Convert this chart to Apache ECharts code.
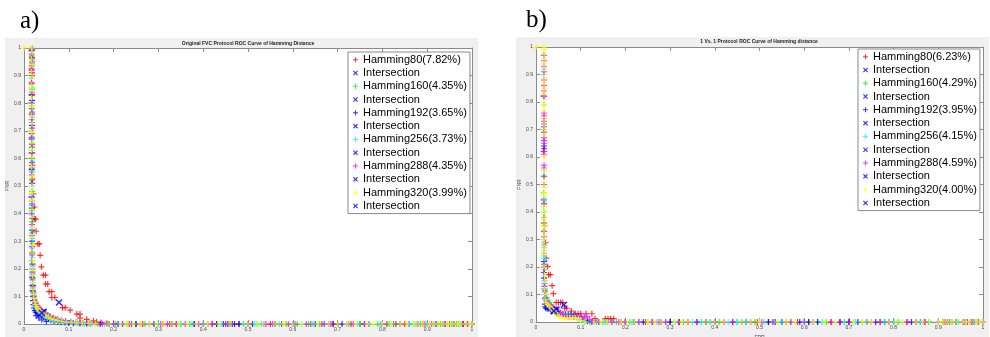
<!DOCTYPE html>
<html>
<head>
<meta charset="utf-8">
<script src="https://cdn.jsdelivr.net/npm/echarts@6.0.0/dist/echarts.min.js"></script>
<style>
  html, body { margin: 0; padding: 0; background: #fff; }
  #chart { width: 990px; height: 337px; }
</style>
</head>
<body>
<div id="chart"></div>
<script>
// ---- data: panel a) Original FVC protocol, [FPR, FNR] ----
const a80 = [[0.017,0.99],[0.018,0.965],[0.017,0.935],[0.018,0.91],[0.017,0.87],[0.018,0.83],[0.017,0.78],[0.018,0.73],[0.017,0.69],[0.018,0.64],[0.017,0.6],[0.018,0.575],[0.019,0.525],[0.021,0.472],[0.0235,0.424],[0.023,0.38],[0.026,0.38],[0.027,0.336],[0.031,0.29],[0.034,0.29],[0.036,0.249],[0.039,0.207],[0.043,0.177],[0.048,0.177],[0.048,0.145],[0.053,0.145],[0.056,0.117],[0.062,0.117],[0.062,0.096],[0.069,0.096],[0.086,0.059],[0.092,0.059],[0.103,0.05],[0.118,0.036],[0.125,0.036],[0.125,0.021],[0.14,0.017],[0.155,0.011],[0.162,0.007],[0.172,0.005],[0.185,0.003],[0.2,0.001],[0.22,0],[0.25,0],[0.28,0],[0.31,0],[0.34,0],[0.38,0],[0.42,0],[0.46,0],[0.5,0],[0.55,0],[0.6,0],[0.64,0],[0.69,0],[0.73,0],[0.77,0],[0.81,0],[0.85,0],[0.89,0],[0.92,0],[0.95,0],[0.97,0],[0.99,0],
  [0.235,0],[0.265,0],[0.325,0],[0.4,0],[0.48,0],[0.575,0],[0.665,0],[0.75,0],[0.83,0],[0.905,0],[0.935,0],[0.96,0],[0.98,0]];
const a160 = [[0.018,1],[0.017,0.97],[0.018,0.945],[0.017,0.9],[0.018,0.855],[0.017,0.79],[0.018,0.75],[0.017,0.7],[0.018,0.655],[0.017,0.64],[0.018,0.6],[0.019,0.575],[0.018,0.55],[0.017,0.52],[0.018,0.48],[0.018,0.445],[0.017,0.41],[0.018,0.37],[0.018,0.33],[0.019,0.29],[0.018,0.255],[0.019,0.22],[0.019,0.19],[0.02,0.165],[0.02,0.14],[0.021,0.12],[0.022,0.105],[0.023,0.092],[0.025,0.082],[0.027,0.074],[0.03,0.066],[0.033,0.059],[0.036,0.053],[0.04,0.048],[0.0435,0.0435],[0.048,0.038],[0.053,0.033],[0.058,0.028],[0.064,0.023],[0.07,0.019],[0.077,0.015],[0.085,0.012],[0.094,0.009],[0.105,0.007],[0.118,0.005],[0.132,0.003],[0.148,0.002],[0.165,0.001],[0.19,0],[0.23,0],[0.27,0],[0.33,0],[0.37,0],[0.41,0],[0.45,0],[0.52,0],[0.56,0],[0.61,0],[0.66,0],[0.7,0],[0.75,0],[0.79,0],[0.83,0],[0.87,0],[0.9,0],[0.93,0],[0.955,0],[0.975,0],[0.99,0],[1,0],
  [0.205,0],[0.25,0],[0.3,0],[0.35,0],[0.43,0],[0.49,0],[0.585,0],[0.635,0],[0.725,0],[0.815,0],[0.885,0],[0.915,0],[0.945,0],[0.965,0]];
const a192 = [[0.017,0.99],[0.018,0.96],[0.017,0.92],[0.017,0.83],[0.018,0.81],[0.017,0.76],[0.018,0.72],[0.017,0.67],[0.018,0.62],[0.017,0.56],[0.018,0.51],[0.017,0.46],[0.018,0.42],[0.019,0.383],[0.018,0.34],[0.018,0.3],[0.018,0.26],[0.018,0.23],[0.019,0.2],[0.018,0.17],[0.019,0.14],[0.019,0.12],[0.02,0.1],[0.02,0.085],[0.021,0.07],[0.022,0.058],[0.024,0.049],[0.026,0.043],[0.029,0.04],[0.032,0.038],[0.0365,0.036],[0.04,0.032],[0.044,0.027],[0.049,0.022],[0.054,0.017],[0.06,0.013],[0.067,0.01],[0.075,0.008],[0.083,0.006],[0.092,0.005],[0.1,0.004],[0.11,0.003],[0.125,0.002],[0.14,0.001],[0.17,0],[0.21,0],[0.25,0],[0.29,0],[0.33,0],[0.38,0],[0.43,0],[0.47,0],[0.48,0],[0.51,0],[0.56,0],[0.6,0],[0.65,0],[0.68,0],[0.71,0],[0.76,0],[0.8,0],[0.84,0],[0.88,0],[0.92,0],[0.96,0],[0.98,0],[1,0],
  [0.027,0.03],[0.033,0.022],[0.04,0.015],[0.05,0.009],[0.19,0],[0.445,0],[0.455,0],[0.465,0],[0.535,0],[0.69,0],[0.7,0],[0.86,0],[0.94,0]];
const a256 = [[0.017,0.98],[0.018,0.94],[0.017,0.89],[0.018,0.85],[0.017,0.8],[0.018,0.77],[0.017,0.73],[0.018,0.68],[0.017,0.63],[0.018,0.59],[0.017,0.555],[0.018,0.5],[0.018,0.47],[0.017,0.43],[0.018,0.395],[0.018,0.35],[0.019,0.31],[0.018,0.275],[0.019,0.24],[0.019,0.21],[0.019,0.18],[0.02,0.15],[0.02,0.13],[0.021,0.11],[0.022,0.095],[0.023,0.082],[0.025,0.07],[0.027,0.061],[0.03,0.053],[0.033,0.046],[0.0373,0.04],[0.041,0.035],[0.046,0.029],[0.051,0.024],[0.057,0.019],[0.063,0.015],[0.07,0.012],[0.078,0.009],[0.087,0.007],[0.097,0.005],[0.108,0.004],[0.12,0.003],[0.135,0.002],[0.15,0.001],[0.18,0],[0.22,0],[0.26,0],[0.3,0],[0.35,0],[0.4,0],[0.44,0],[0.49,0],[0.53,0],[0.57,0],[0.62,0],[0.67,0],[0.72,0],[0.77,0],[0.82,0],[0.86,0],[0.9,0],[0.94,0],[0.97,0],[0.99,0],
  [0.2,0],[0.24,0],[0.28,0],[0.375,0],[0.515,0],[0.6,0],[0.645,0],[0.745,0],[0.795,0],[0.875,0],[0.92,0],[0.955,0],[1,0]];
const a288 = [[0.018,0.995],[0.017,0.975],[0.018,0.95],[0.017,0.925],[0.018,0.9],[0.017,0.875],[0.018,0.84],[0.017,0.8],[0.018,0.765],[0.017,0.74],[0.018,0.71],[0.017,0.675],[0.018,0.65],[0.017,0.62],[0.018,0.585],[0.018,0.565],[0.017,0.54],[0.018,0.51],[0.017,0.46],[0.018,0.435],[0.017,0.4],[0.018,0.36],[0.018,0.32],[0.018,0.28],[0.018,0.25],[0.019,0.215],[0.019,0.185],[0.019,0.16],[0.02,0.135],[0.021,0.115],[0.022,0.1],[0.024,0.087],[0.026,0.077],[0.029,0.068],[0.032,0.06],[0.036,0.054],[0.04,0.048],[0.0435,0.0435],[0.048,0.038],[0.053,0.032],[0.059,0.027],[0.066,0.022],[0.074,0.018],[0.083,0.014],[0.093,0.011],[0.104,0.008],[0.116,0.006],[0.13,0.004],[0.145,0.003],[0.16,0.002],[0.175,0.001],[0.2,0],[0.24,0],[0.28,0],[0.32,0],[0.36,0],[0.39,0],[0.42,0],[0.45,0],[0.5,0],[0.54,0],[0.59,0],[0.63,0],[0.67,0],[0.72,0],[0.76,0],[0.8,0],[0.84,0],[0.88,0],[0.91,0],[0.94,0],[0.96,0],[0.98,0],[1,0],
  [0.22,0],[0.26,0],[0.305,0],[0.34,0],[0.41,0],[0.555,0],[0.605,0],[0.685,0],[0.735,0],[0.825,0],[0.895,0],[0.925,0],[0.99,0]];
const a320 = [[0,1],[0.017,1],[0.018,0.985],[0.017,0.96],[0.018,0.94],[0.017,0.915],[0.018,0.895],[0.017,0.865],[0.018,0.845],[0.017,0.82],[0.018,0.79],[0.017,0.755],[0.018,0.725],[0.017,0.695],[0.018,0.66],[0.017,0.63],[0.018,0.605],[0.017,0.57],[0.018,0.535],[0.018,0.5],[0.017,0.475],[0.018,0.45],[0.018,0.415],[0.018,0.385],[0.018,0.35],[0.018,0.315],[0.019,0.285],[0.018,0.26],[0.019,0.23],[0.019,0.2],[0.019,0.175],[0.02,0.15],[0.02,0.125],[0.021,0.108],[0.022,0.093],[0.024,0.08],[0.026,0.07],[0.028,0.062],[0.031,0.055],[0.034,0.049],[0.037,0.044],[0.0399,0.04],[0.044,0.035],[0.049,0.03],[0.054,0.025],[0.06,0.02],[0.067,0.016],[0.075,0.013],[0.084,0.01],[0.094,0.008],[0.105,0.006],[0.117,0.004],[0.13,0.003],[0.145,0.002],[0.16,0.001],[0.19,0],[0.215,0],[0.245,0],[0.28,0],[0.31,0],[0.345,0],[0.385,0],[0.41,0],[0.46,0],[0.5,0],[0.535,0],[0.58,0],[0.62,0],[0.655,0],[0.7,0],[0.74,0],[0.78,0],[0.82,0],[0.855,0],[0.88,0],[0.905,0],[0.925,0],[0.945,0],[0.96,0],[0.975,0],[0.985,0],[0.995,0],[1,0],
  [0.23,0],[0.26,0],[0.295,0],[0.33,0],[0.365,0],[0.435,0],[0.52,0],[0.56,0],[0.6,0],[0.68,0],[0.72,0],[0.765,0],[0.8,0],[0.84,0],[0.87,0],[0.89,0],[0.915,0],[0.935,0],[0.952,0],[0.968,0]];

// ---- data: panel b) 1 Vs. 1 protocol ----
const b80 = [[0.017,0.822],[0.017,0.62],[0.017,0.444],[0.018,0.43],[0.019,0.35],[0.021,0.289],[0.023,0.232],[0.026,0.202],[0.028,0.172],[0.032,0.172],[0.036,0.132],[0.039,0.103],[0.045,0.071],[0.05,0.071],[0.055,0.071],[0.06,0.071],[0.064,0.05],[0.069,0.05],[0.079,0.04],[0.088,0.03],[0.094,0.03],[0.1,0.03],[0.112,0.03],[0.125,0.03],[0.132,0.012],[0.155,0.012],[0.161,0.012],[0.167,0.012],[0.174,0.012],[0.19,0],[0.22,0],[0.26,0],[0.3,0],[0.34,0],[0.38,0],[0.42,0],[0.47,0],[0.52,0],[0.56,0],[0.61,0],[0.66,0],[0.7,0],[0.74,0],[0.79,0],[0.83,0],[0.87,0],[0.91,0],[0.94,0],[0.97,0],[0.99,0],
  [0.2,0],[0.245,0],[0.32,0],[0.4,0],[0.495,0],[0.585,0],[0.68,0],[0.77,0],[0.85,0],[0.925,0],[0.955,0],[0.98,0]];
const b160 = [[0.018,0.69],[0.018,0.53],[0.017,0.47],[0.018,0.4],[0.018,0.38],[0.017,0.36],[0.018,0.33],[0.018,0.3],[0.018,0.26],[0.018,0.22],[0.019,0.19],[0.019,0.16],[0.019,0.13],[0.02,0.115],[0.022,0.1],[0.024,0.088],[0.027,0.078],[0.03,0.07],[0.033,0.063],[0.037,0.055],[0.04,0.048],[0.0429,0.043],[0.047,0.037],[0.052,0.031],[0.058,0.026],[0.065,0.022],[0.075,0.02],[0.085,0.02],[0.095,0.018],[0.1,0.01],[0.11,0.005],[0.12,0],[0.15,0],[0.18,0],[0.21,0],[0.25,0],[0.29,0],[0.33,0],[0.37,0],[0.41,0],[0.45,0],[0.49,0],[0.53,0],[0.57,0],[0.61,0],[0.65,0],[0.69,0],[0.73,0],[0.77,0],[0.81,0],[0.85,0],[0.88,0],[0.91,0],[0.94,0],[0.965,0],[0.985,0],[1,0],
  [0.135,0],[0.23,0],[0.31,0],[0.39,0],[0.47,0],[0.55,0],[0.63,0],[0.71,0],[0.79,0],[0.865,0],[0.925,0],[0.975,0]];
const b192 = [[0.018,0.74],[0.018,0.72],[0.017,0.7],[0.018,0.64],[0.018,0.63],[0.018,0.38],[0.018,0.22],[0.018,0.2],[0.018,0.18],[0.018,0.16],[0.019,0.14],[0.019,0.12],[0.019,0.1],[0.02,0.085],[0.02,0.065],[0.021,0.055],[0.022,0.05],[0.025,0.049],[0.028,0.048],[0.032,0.046],[0.036,0.044],[0.0395,0.041],[0.043,0.037],[0.046,0.033],[0.049,0.029],[0.054,0.028],[0.06,0.028],[0.066,0.028],[0.072,0.028],[0.078,0.028],[0.085,0.027],[0.095,0.02],[0.105,0.01],[0.115,0.004],[0.125,0],[0.16,0],[0.2,0],[0.24,0],[0.28,0],[0.32,0],[0.36,0],[0.4,0],[0.44,0],[0.48,0],[0.52,0],[0.55,0],[0.59,0],[0.63,0],[0.68,0],[0.72,0],[0.76,0],[0.8,0],[0.84,0],[0.88,0],[0.92,0],[0.96,0],[0.99,0],
  [0.14,0],[0.22,0],[0.3,0],[0.38,0],[0.46,0],[0.535,0],[0.61,0],[0.7,0],[0.78,0],[0.86,0],[0.94,0]];
const b256 = [[0.017,0.97],[0.018,0.92],[0.017,0.9],[0.018,0.86],[0.017,0.82],[0.018,0.79],[0.017,0.71],[0.018,0.67],[0.018,0.55],[0.017,0.53],[0.018,0.45],[0.018,0.44],[0.017,0.42],[0.018,0.33],[0.018,0.29],[0.018,0.27],[0.018,0.24],[0.018,0.23],[0.019,0.21],[0.019,0.17],[0.019,0.14],[0.02,0.12],[0.02,0.1],[0.021,0.085],[0.023,0.075],[0.026,0.069],[0.03,0.064],[0.034,0.058],[0.038,0.05],[0.0415,0.044],[0.045,0.04],[0.05,0.036],[0.055,0.033],[0.062,0.03],[0.07,0.026],[0.078,0.022],[0.086,0.018],[0.094,0.012],[0.1,0.006],[0.108,0],[0.14,0],[0.17,0],[0.2,0],[0.23,0],[0.27,0],[0.31,0],[0.35,0],[0.39,0],[0.43,0],[0.47,0],[0.51,0],[0.55,0],[0.6,0],[0.64,0],[0.69,0],[0.74,0],[0.78,0],[0.82,0],[0.86,0],[0.9,0],[0.93,0],[0.96,0],[0.98,0],[1,0],
  [0.155,0],[0.215,0],[0.29,0],[0.37,0],[0.45,0],[0.53,0],[0.62,0],[0.715,0],[0.8,0],[0.88,0],[0.945,0],[0.99,0]];
const b288 = [[0.018,0.97],[0.018,0.95],[0.018,0.93],[0.018,0.91],[0.018,0.88],[0.018,0.86],[0.018,0.84],[0.018,0.82],[0.018,0.76],[0.018,0.75],[0.018,0.73],[0.018,0.71],[0.018,0.69],[0.018,0.67],[0.018,0.66],[0.018,0.65],[0.018,0.62],[0.018,0.61],[0.018,0.57],[0.018,0.56],[0.018,0.53],[0.018,0.5],[0.018,0.43],[0.018,0.36],[0.018,0.33],[0.018,0.31],[0.018,0.28],[0.018,0.25],[0.018,0.21],[0.018,0.18],[0.019,0.15],[0.019,0.13],[0.02,0.11],[0.021,0.09],[0.023,0.078],[0.026,0.07],[0.03,0.063],[0.034,0.057],[0.038,0.052],[0.042,0.048],[0.0459,0.046],[0.05,0.04],[0.055,0.034],[0.06,0.028],[0.066,0.022],[0.072,0.02],[0.078,0.02],[0.084,0.02],[0.09,0.02],[0.096,0.02],[0.102,0.02],[0.108,0.02],[0.114,0.019],[0.12,0.01],[0.13,0.004],[0.14,0],[0.17,0],[0.2,0],[0.23,0],[0.26,0],[0.29,0],[0.32,0],[0.36,0],[0.4,0],[0.44,0],[0.48,0],[0.53,0],[0.57,0],[0.62,0],[0.66,0],[0.7,0],[0.75,0],[0.79,0],[0.83,0],[0.87,0],[0.9,0],[0.93,0],[0.955,0],[0.975,0],[0.99,0],
  [0.185,0],[0.275,0],[0.34,0],[0.42,0],[0.505,0],[0.6,0],[0.68,0],[0.77,0],[0.85,0],[0.915,0],[0.965,0],[1,0]];
const b320 = [[0,1],[0.018,1],[0.018,0.99],[0.018,0.98],[0.018,0.96],[0.018,0.94],[0.018,0.92],[0.018,0.89],[0.018,0.87],[0.018,0.85],[0.018,0.83],[0.018,0.8],[0.018,0.79],[0.018,0.77],[0.018,0.74],[0.018,0.72],[0.018,0.7],[0.018,0.68],[0.018,0.6],[0.018,0.55],[0.018,0.51],[0.018,0.49],[0.018,0.47],[0.018,0.46],[0.018,0.42],[0.018,0.4],[0.018,0.38],[0.018,0.37],[0.018,0.35],[0.018,0.34],[0.018,0.32],[0.018,0.3],[0.018,0.28],[0.018,0.26],[0.018,0.25],[0.018,0.2],[0.019,0.17],[0.019,0.15],[0.019,0.12],[0.02,0.1],[0.021,0.08],[0.023,0.07],[0.026,0.063],[0.03,0.057],[0.034,0.05],[0.037,0.045],[0.04,0.04],[0.044,0.033],[0.048,0.025],[0.052,0.02],[0.058,0.016],[0.064,0.015],[0.07,0.015],[0.076,0.015],[0.082,0.015],[0.088,0.015],[0.095,0.012],[0.1,0.006],[0.11,0],[0.13,0],[0.16,0],[0.19,0],[0.22,0],[0.25,0],[0.28,0],[0.31,0],[0.34,0],[0.38,0],[0.42,0],[0.46,0],[0.5,0],[0.54,0],[0.58,0],[0.62,0],[0.67,0],[0.71,0],[0.75,0],[0.79,0],[0.82,0],[0.85,0],[0.88,0],[0.9,0],[0.92,0],[0.94,0],[0.955,0],[0.97,0],[0.985,0],[1,0],
  [0.145,0],[0.205,0],[0.265,0],[0.325,0],[0.4,0],[0.48,0],[0.56,0],[0.645,0],[0.73,0],[0.805,0],[0.865,0],[0.91,0],[0.93,0],[0.962,0],[0.992,0]];

// hamming lengths, EER (%) per panel, matlab colours
const hamming = ['80', '160', '192', '256', '288', '320'];
const eerA = ['7.82', '4.35', '3.65', '3.73', '4.35', '3.99'];
const eerB = ['6.23', '4.29', '3.95', '4.15', '4.59', '4.00'];
const colors = ['#ff0000', '#00ff00', '#0000ff', '#00ffff', '#ff00ff', '#ffff00'];
const curvesA = [a80, a160, a192, a256, a288, a320];
const curvesB = [b80, b160, b192, b256, b288, b320];

const plusPath = 'path://M4,0H6V4H10V6H6V10H4V6H0V4H4Z';
const crossPath = 'path://M0,1.6L1.6,0L5,3.4L8.4,0L10,1.6L6.6,5L10,8.4L8.4,10L5,6.6L1.6,10L0,8.4L3.4,5Z';

const chart = echarts.init(document.getElementById('chart'));

function makeAxes(grid, dim) {
  const base = {
    gridIndex: grid,
    type: 'value',
    min: 0,
    max: 1,
    interval: 0.1,
    splitLine: { show: false },
    axisLine: { onZero: false, lineStyle: { color: '#8a8a8a', width: 1 } },
    axisTick: { inside: true, length: 4, lineStyle: { color: '#8a8a8a' } },
  };
  const main = Object.assign({}, base, {
    position: dim === 'x' ? 'bottom' : 'left',
    axisLabel: { fontSize: 5, color: '#444', margin: 3, fontFamily: 'Liberation Sans' },
    name: dim === 'x' ? 'FPR' : 'FNR',
    nameLocation: 'middle',
    nameGap: dim === 'x' ? 8 : 10,
    nameTextStyle: { fontSize: 5, color: '#444', fontFamily: 'Liberation Sans' },
  });
  const other = Object.assign({}, base, {
    position: dim === 'x' ? 'top' : 'right',
    axisLabel: { show: false },
  });
  return [main, other];
}

const series = [];
const legendA = [];
const legendB = [];
function addPanel(curves, eers, xi, yi, tag, legendList) {
  curves.forEach(function (curve, i) {
    const name = 'Hamming' + hamming[i] + '(' + eers[i] + '%)';
    const iname = 'Intersection#' + tag + hamming[i];
    const e = parseFloat(eers[i]) / 100;
    series.push({
      type: 'scatter', name: name, xAxisIndex: xi, yAxisIndex: yi,
      data: curve, symbol: plusPath, symbolSize: 6,
      itemStyle: { color: colors[i] }, silent: true,
    });
    series.push({
      type: 'scatter', name: iname, xAxisIndex: xi, yAxisIndex: yi,
      data: [[e, e]], symbol: crossPath, symbolSize: 7,
      itemStyle: { color: '#0000ff' }, silent: true,
    });
    legendList.push(name, iname);
  });
}
addPanel(curvesA, eerA, 0, 0, 'a', legendA);
addPanel(curvesB, eerB, 2, 2, 'b', legendB);

const legendBase = {
  orient: 'vertical',
  padding: [1, 3, 1, 5],
  itemGap: 0,
  itemWidth: 5,
  itemHeight: 5,
  backgroundColor: '#fff',
  borderColor: '#8a8a8a',
  borderWidth: 1,
  selectedMode: false,
  textStyle: { fontFamily: 'Liberation Sans', fontSize: 11, color: '#000', lineHeight: 13.3 },
  formatter: function (n) { return n.split('#')[0]; },
};

const option = {
  animation: false,
  graphic: [
    { type: 'rect', z: -10, shape: { x: 5, y: 38, width: 473, height: 299 }, style: { fill: '#f0f0f0' } },
    { type: 'rect', z: -10, shape: { x: 516, y: 37, width: 473, height: 300 }, style: { fill: '#f0f0f0' } },
  ],
  title: [
    { text: 'a)', left: 20, top: 9, padding: 0, textStyle: { fontFamily: 'Liberation Serif', fontSize: 25, fontWeight: 'normal', color: '#000' } },
    { text: 'b)', left: 526, top: 8, padding: 0, textStyle: { fontFamily: 'Liberation Serif', fontSize: 25, fontWeight: 'normal', color: '#000' } },
    { text: 'Original FVC Protocol ROC Curve of Hamming Distance', left: 248, top: 41.5, padding: 0, textAlign: 'center',
      textStyle: { fontFamily: 'Liberation Sans', fontSize: 5, fontWeight: 'bold', color: '#222' } },
    { text: '1 Vs. 1 Protocol ROC Curve of Hamming distance', left: 759, top: 39.5, padding: 0, textAlign: 'center',
      textStyle: { fontFamily: 'Liberation Sans', fontSize: 5, fontWeight: 'bold', color: '#222' } },
  ],
  grid: [
    { left: 24, top: 48, width: 448, height: 276, outerBoundsMode: 'none', containLabel: false,
      show: true, backgroundColor: '#fff', borderWidth: 0 },
    { left: 536, top: 47, width: 447, height: 275, outerBoundsMode: 'none', containLabel: false,
      show: true, backgroundColor: '#fff', borderWidth: 0 },
  ],
  xAxis: [].concat(makeAxes(0, 'x'), makeAxes(1, 'x')),
  yAxis: [].concat(makeAxes(0, 'y'), makeAxes(1, 'y')),
  legend: [
    Object.assign({}, legendBase, { left: 348, top: 52, data: legendA }),
    Object.assign({}, legendBase, { left: 858, top: 49, data: legendB }),
  ],
  series: series,
};
chart.setOption(option);
</script>
</body>
</html>
